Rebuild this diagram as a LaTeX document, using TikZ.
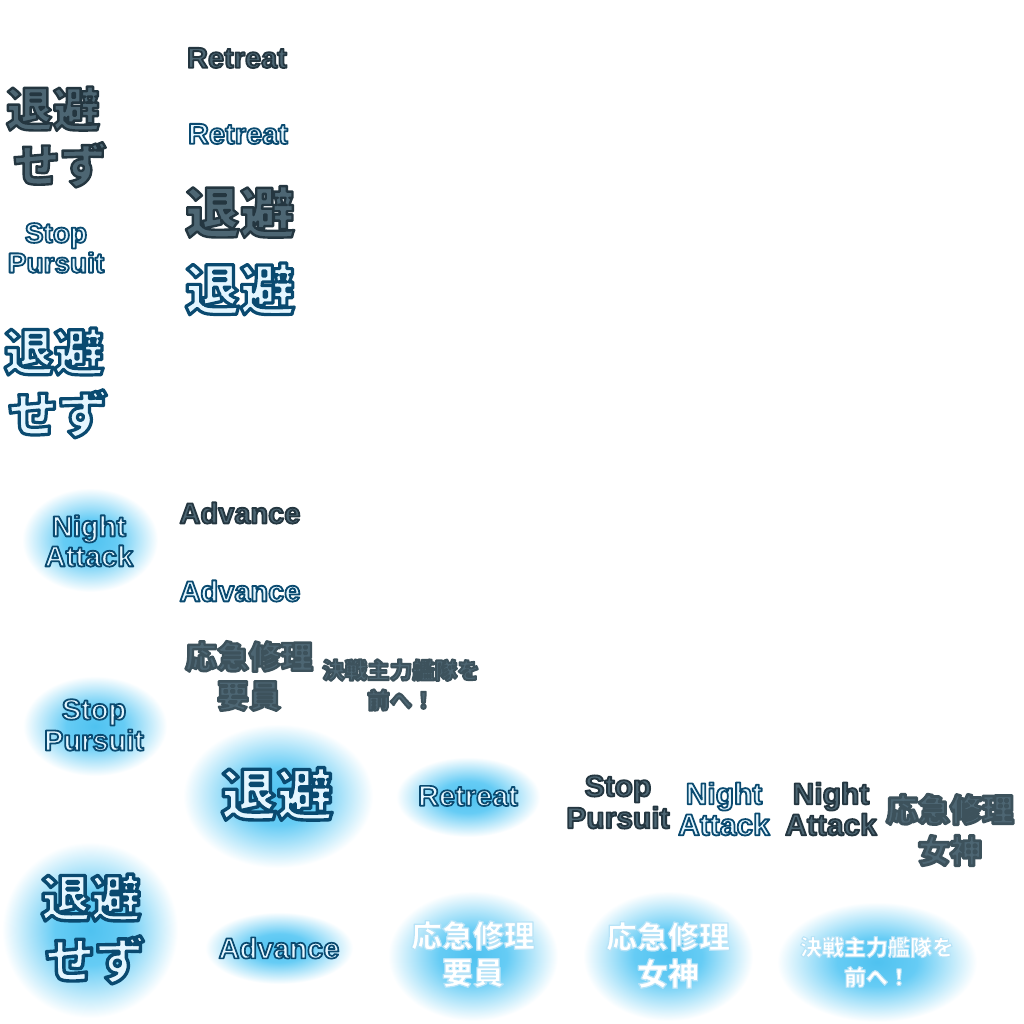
\documentclass[tikz,border=0pt]{standalone}
\usepackage{fontspec}
\newfontfamily\latf{Liberation Sans}
\newfontfamily\jpf{Noto Sans CJK JP}
\definecolor{darkfill}{HTML}{4D6673}
\definecolor{lightfill}{HTML}{E4F6FF}
\definecolor{whitefill}{HTML}{FFFFFF}
\def\cDark{0.14 0.21 0.25}
\def\cSoft{0.24 0.32 0.36}
\def\cLight{0.04 0.29 0.44}
\def\cWhite{0.72 0.89 0.97}
\pgfdeclareradialshading{glowshade}{\pgfpoint{0bp}{0bp}}{rgb(0bp)=(0.31,0.76,0.94); rgb(10bp)=(0.40,0.80,0.96); rgb(25bp)=(1,1,1); rgb(50bp)=(1,1,1)}
\newcommand\lat[2]{\latf\bfseries\fontsize{#1}{#2}\selectfont}
\newcommand\jp[2]{\jpf\bfseries\fontsize{#1}{#2}\selectfont}
% #1 fill colour, #2 stroke rgb, #3 stroke width, #4 font, #5 name, #6 position, #7 text
\newcommand\olab[7]{%
  \node[lbl,font=#4,text=#1] (#5) at (#6) {\special{pdf:code q 2 Tr #3 w 1 j #2 RG}#7\special{pdf:code Q}};}
\tikzset{lbl/.style={inner sep=0pt,align=center},
  glow/.style={shading=glowshade},
  cell/.style={fill=white}}
\begin{document}
\begin{tikzpicture}[x=1pt,y=-1pt]
\useasboundingbox[fill=white] (0,0) rectangle (1024,1024);
% glows
\begin{scope}[blend mode=multiply]
\shade[glow] (90,540) ellipse (68 and 52);
\shade[glow] (95,726) ellipse (72 and 50);
\shade[glow] (278,796) ellipse (95 and 72);
\shade[glow] (90,930) ellipse (88 and 88);
\shade[glow] (473,956) ellipse (85 and 65);
\shade[glow] (668,956) ellipse (85 and 65);
\shade[glow] (877,962) ellipse (100 and 60);
\end{scope}
\fill[cell] (385,738) rectangle (522,872);
\fill[cell] (205,882) rectangle (360,1005);
\begin{scope}[blend mode=multiply]
\shade[glow] (468,797) ellipse (72 and 40);
\shade[glow] (279,948) ellipse (74 and 36);
\end{scope}
% labels
\olab{darkfill}{\cDark}{1.8}{\lat{29}{30}}{r1}{237,58}{Retreat}
\olab{lightfill}{\cLight}{1.8}{\lat{29}{30}}{r2}{238,134}{Retreat}
\olab{darkfill}{\cDark}{2.4}{\jp{55}{60}}{t1}{240,212}{退避}
\olab{lightfill}{\cLight}{3.2}{\jp{55}{60}}{t2}{240,289}{退避}
\olab{darkfill}{\cDark}{2.4}{\jp{47}{56}}{ts1}{53,137}{退避\\\hspace*{14pt}せず}
\olab{lightfill}{\cLight}{1.8}{\lat{28}{30}}{sp1}{56,248}{Stop\\Pursuit}
\olab{lightfill}{\cLight}{3.2}{\jp{50}{62}}{ts2}{54,383}{退避\\\hspace*{8pt}せず}
\olab{lightfill}{\cLight}{1.8}{\lat{29}{30}}{na1}{89,541}{Night\\Attack}
\olab{darkfill}{\cDark}{1.8}{\lat{29}{30}}{a1}{240,513}{Advance}
\olab{lightfill}{\cLight}{1.8}{\lat{29}{30}}{a2}{240,591}{Advance}
\olab{darkfill}{\cSoft}{2.4}{\jp{32}{39}}{ok1}{249,676}{応急修理\\要員}
\olab{darkfill}{\cSoft}{2.0}{\jp{22.5}{30}}{kk1}{401,685}{決戦主力艦隊を\\前へ！}
\olab{lightfill}{\cLight}{1.8}{\lat{29}{31}}{sp2}{94,725}{Stop\\Pursuit}
\olab{lightfill}{\cLight}{3.4}{\jp{56}{60}}{t3}{277,794}{退避}
\olab{lightfill}{\cLight}{1.7}{\lat{29}{30}}{r3}{468,796}{Retreat}
\olab{darkfill}{\cDark}{1.8}{\lat{30}{32}}{sp3}{618,802}{Stop\\Pursuit}
\olab{lightfill}{\cLight}{1.8}{\lat{30}{31}}{na2}{724,809}{Night\\Attack}
\olab{darkfill}{\cDark}{1.8}{\lat{30}{31}}{na3}{831,809}{Night\\Attack}
\olab{darkfill}{\cSoft}{2.8}{\jp{32}{41}}{ok2}{950,830}{応急修理\\女神}
\olab{lightfill}{\cLight}{3.4}{\jp{50}{62}}{ts3}{91,929}{退避\\\hspace*{8pt}せず}
\olab{lightfill}{\cLight}{1.7}{\lat{29}{30}}{a3}{279,948}{Advance}
\olab{whitefill}{\cWhite}{1.2}{\jp{31}{37}}{ok3}{473,954}{応急修理\\要員}
\olab{whitefill}{\cWhite}{1.2}{\jp{31}{37}}{ok4}{668,955}{応急修理\\女神}
\olab{whitefill}{\cWhite}{1.0}{\jp{22}{30}}{kk2}{877,962}{決戦主力艦隊を\\前へ！}
\end{tikzpicture}
\end{document}
